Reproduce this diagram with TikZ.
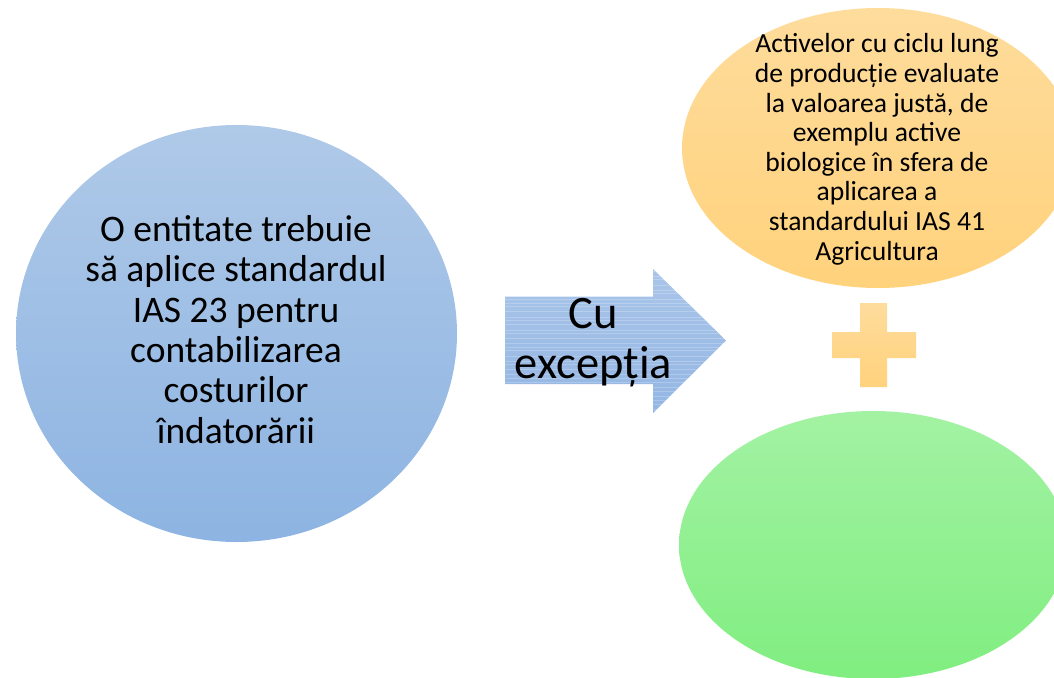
\documentclass[tikz,border=0pt]{standalone}
\usepackage{fontspec}
\setmainfont{Carlito}
\usetikzlibrary{shapes.geometric}
\definecolor{blueTop}{HTML}{AFC9E8}
\definecolor{blueBot}{HTML}{8DB4E2}
\definecolor{arrTop}{HTML}{AAC5E9}
\definecolor{arrBot}{HTML}{93B6E3}
\definecolor{orTop}{HTML}{FEDC9C}
\definecolor{orBot}{HTML}{FFD27C}
\definecolor{grTop}{HTML}{A3F2A3}
\definecolor{grBot}{HTML}{80EE80}
\tikzset{
  blob/.style={ellipse, draw=none, inner sep=0pt},
  txt/.style={align=center, anchor=base, text=black, inner sep=0pt},
  stripe/.style={white, opacity=0.22, line width=0.6pt}
}
\begin{document}
\begin{tikzpicture}[x=1pt,y=-1pt]
\useasboundingbox (0,0) rectangle (1054,677);
% left circle
\node[blob, minimum width=441pt, minimum height=417pt, top color=blueTop, bottom color=blueBot] (circ) at (236.5,333.5) {};
\node[txt, font=\fontsize{37.5}{40.3}\selectfont] (ctext) at (236,443) {O entitate trebuie\\să aplice standardul\\IAS 23 pentru\\contabilizarea\\costurilor\\îndatorării};
% arrow
\path[top color=arrTop, bottom color=arrBot] (505,296.7) -- (653,296.7) -- (653,269) -- (726,340.5) -- (653,413) -- (653,384) -- (505,384) -- cycle;
\begin{scope}
\clip (505,296.7) -- (653,296.7) -- (653,269) -- (726,340.5) -- (653,413) -- (653,384) -- (505,384) -- cycle;
\foreach \yy in {271,276,279,285,290,293,299,303,306,311,317,320,324,330,333,338,343,347,350,356,361,364,369,374,378,382,387,391,396,400,404,409}{
  \draw[stripe] (500,\yy) -- (730,\yy);
}
\end{scope}
\coordinate (arrtail) at (505,340.5);
\coordinate (arrtip) at (726,340.5);
\node[txt, font=\fontsize{46.5}{50}\selectfont] (atext) at (593.5,378) {Cu\\excepția};
% top ellipse
\node[blob, minimum width=392pt, minimum height=280pt, top color=orTop, bottom color=orBot] (top) at (878,148) {};
\node[txt, font=\fontsize{27.6}{29.6}\selectfont] (ttext) at (877,260) {Activelor cu ciclu lung\\de producție evaluate\\la valoarea justă, de\\exemplu active\\biologice în sfera de\\aplicarea a\\standardului IAS 41\\Agricultura};
% plus
\path[top color=orTop, bottom color=orBot] (860,303) -- (887,303) -- (887,332) -- (916,332) -- (916,358) -- (887,358) -- (887,387) -- (860,387) -- (860,358) -- (832,358) -- (832,332) -- (860,332) -- cycle;
% green ellipse
\node[blob, minimum width=388pt, minimum height=268pt, top color=grTop, bottom color=grBot] (bot) at (873,545) {};
\end{tikzpicture}
\end{document}
